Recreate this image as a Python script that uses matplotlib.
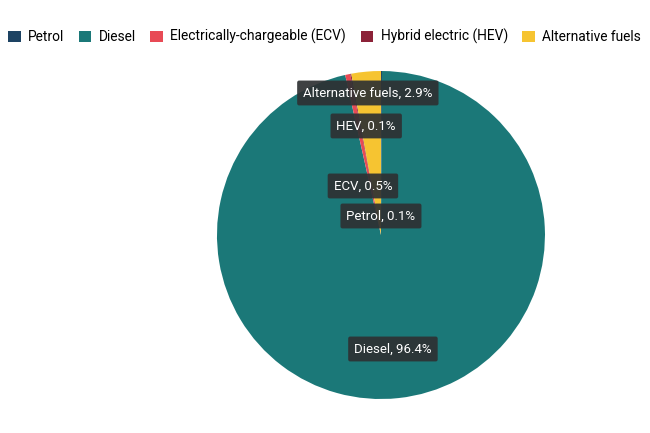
import matplotlib.pyplot as plt
import numpy as np

plt.rcParams['font.family'] = ['Roboto', 'DejaVu Sans']

fuels = ['Petrol', 'Diesel', 'Electrically-chargeable (ECV)',
         'Hybrid electric (HEV)', 'Alternative fuels']
short = ['Petrol', 'Diesel', 'ECV', 'HEV', 'Alternative fuels']
shares = [0.1, 96.4, 0.5, 0.1, 2.9]
colors = ['#1d4363', '#1b7878', '#e84a55', '#8c2238', '#f6c431']

# label box centres in pie units (radius = 1)
label_pos = [(0.0, 0.116), (0.073, -0.695), (-0.11, 0.299),
             (-0.09, 0.665), (-0.08, 0.866)]

fig = plt.figure(figsize=(6.5, 4.33), dpi=100)
ax = fig.add_axes([0.3338, 0.0785, 0.5046, 0.7575])
wedges, _ = ax.pie(shares, colors=colors, startangle=90, counterclock=False,
                   radius=1, wedgeprops=dict(linewidth=0))
ax.set_xlim(-1, 1)
ax.set_ylim(-1, 1)
ax.set_aspect('auto')
ax.axis('off')

for name, val, (x, y) in zip(short, shares, label_pos):
    ax.text(x, y, f'{name}, {val}%', ha='center', va='center',
            color='white', fontsize=9.5,
            bbox=dict(boxstyle='round,pad=0.45,rounding_size=0.15',
                      fc='#2e3133', ec='none', alpha=0.92), zorder=5)

fig.legend(wedges, fuels, loc='upper left', bbox_to_anchor=(-0.002, 0.955),
           ncol=5, frameon=False, fontsize=9.9, handlelength=0.9,
           handleheight=0.9, handletextpad=0.55, columnspacing=1.05,
           borderpad=0.2)

fig.savefig('out.png', dpi=100)
